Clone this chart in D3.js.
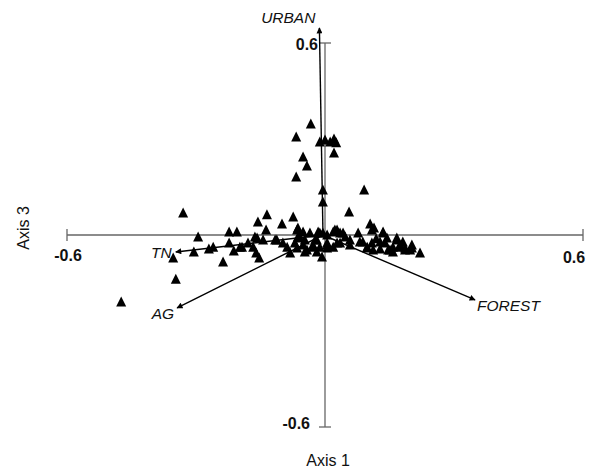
<!DOCTYPE html>
<html>
<head>
<meta charset="utf-8">
<script src="https://cdn.jsdelivr.net/npm/d3@7"></script>
<style>
  body { margin: 0; background: #fff; }
  svg text { font-family: "Liberation Sans", Arial, sans-serif; fill: #111; }
  .tick-label { font-size: 16px; font-weight: bold; }
  .axis-title { font-size: 16px; }
  .vec-label { font-size: 15.5px; font-style: italic; }
</style>
</head>
<body>
<svg id="plot" width="591" height="470"></svg>
<script>
// site scores (Axis 1, Axis 3)
const siteX = [-0.033, -0.067, -0.012, 0.000, 0.012, 0.021, 0.026, 0.021, -0.051, -0.042,
  -0.067, -0.005, -0.005, 0.091, 0.056, -0.135, -0.074, -0.330, -0.295, -0.353,
  -0.347, -0.474, -0.305, -0.270, -0.260, -0.237, -0.223, -0.205, -0.223, -0.212,
  -0.193, -0.179, -0.163, -0.156, -0.137, -0.144, -0.160, -0.153, -0.116, -0.100,
  -0.098, -0.081, -0.065, -0.063, -0.070, -0.047, -0.035, -0.023, -0.042, -0.019,
  -0.005, -0.007, 0.005, -0.051, -0.016, 0.005, 0.019, 0.028, 0.042, 0.058,
  0.035, 0.019, 0.005, -0.012, -0.028, -0.047, 0.077, 0.105, 0.114, 0.088,
  0.109, 0.119, 0.135, 0.140, 0.147, 0.128, 0.167, 0.174, 0.181, 0.186,
  0.158, 0.198, 0.202, 0.221, 0.098, -0.058,
  -0.063, -0.012, -0.019, 0.023, 0.035, 0.047, 0.028, 0.005, -0.028, -0.051,
  -0.065, 0.058, 0.081, 0.109, 0.135, 0.128, 0.144, 0.158, 0.174, 0.186,
  0.202, 0.167, 0.098, 0.112, 0.151, -0.088, -0.112, -0.158, -0.167, -0.198];
const siteY = [0.347, 0.306, 0.291, 0.297, 0.291, 0.300, 0.288, 0.256, 0.244, 0.216,
  0.181, 0.141, 0.103, 0.141, 0.072, 0.063, 0.056, 0.069, -0.006, -0.072,
  -0.138, -0.209, -0.053, -0.044, -0.038, -0.084, 0.009, 0.009, -0.025, -0.050,
  -0.038, -0.025, -0.006, 0.041, 0.016, -0.016, -0.056, -0.072, -0.016, 0.034,
  -0.025, -0.056, 0.016, -0.006, -0.025, -0.016, 0.006, -0.016, -0.047, -0.053,
  0.006, -0.069, -0.025, 0.009, 0.009, 0.000, 0.009, 0.016, 0.006, -0.016,
  -0.025, -0.038, -0.041, -0.038, -0.038, -0.053, 0.006, 0.034, 0.022, -0.022,
  -0.025, -0.012, 0.006, -0.025, -0.047, -0.044, -0.009, -0.038, -0.022, -0.047,
  -0.053, -0.047, -0.031, -0.056, -0.038, -0.009,
  0.022, 0.006, -0.016, 0.016, 0.006, -0.006, -0.025, -0.031, -0.031, -0.031,
  -0.041, -0.031, -0.022, 0.016, 0.009, -0.022, -0.009, -0.038, -0.031, -0.041,
  -0.041, -0.016, -0.041, -0.047, -0.047, -0.038, -0.016, -0.009, -0.038, -0.038];

// environmental vectors
const vecNames = ["URBAN", "TN", "AG", "FOREST"];
const vecX = [-0.013, -0.347, -0.344, 0.349];
const vecY = [0.647, -0.053, -0.228, -0.203];

const axisMin = -0.6, axisMax = 0.6;
const tickLabels = ["-0.6", "0.6"];

const svg = d3.select("#plot");
const x = d3.scaleLinear().domain([axisMin, axisMax]).range([67, 583]);
const y = d3.scaleLinear().domain([axisMin, axisMax]).range([427, 43]);

// label placement (pixels, relative to arrow tip)
const labelPos = {
  URBAN: { dx: -4, dy: -5, anchor: "end" },
  TN: { dx: -4, dy: 6, anchor: "end" },
  AG: { dx: -3, dy: 11, anchor: "end" },
  FOREST: { dx: 2, dy: 11, anchor: "start" }
};

// axes through origin
const axisColor = "#666";
svg.append("line")
  .attr("x1", x(axisMin)).attr("x2", x(axisMax))
  .attr("y1", y(0)).attr("y2", y(0))
  .attr("stroke", axisColor).attr("stroke-width", 1.3);
svg.append("line")
  .attr("x1", x(0)).attr("x2", x(0))
  .attr("y1", y(axisMin)).attr("y2", y(axisMax))
  .attr("stroke", axisColor).attr("stroke-width", 1.3);

// end ticks
[axisMin, axisMax].forEach(v => {
  svg.append("line")
    .attr("x1", x(v)).attr("x2", x(v))
    .attr("y1", y(0) - 6).attr("y2", y(0) + 6)
    .attr("stroke", axisColor).attr("stroke-width", 1.3);
  svg.append("line")
    .attr("x1", x(0) - 6).attr("x2", x(0) + 6)
    .attr("y1", y(v)).attr("y2", y(v))
    .attr("stroke", axisColor).attr("stroke-width", 1.3);
});

// tick labels
svg.append("text").attr("class", "tick-label")
  .attr("x", x(axisMin) + 1).attr("y", y(0) + 26)
  .attr("text-anchor", "middle").text(tickLabels[0]);
svg.append("text").attr("class", "tick-label")
  .attr("x", x(axisMax) - 9).attr("y", y(0) + 28)
  .attr("text-anchor", "middle").text(tickLabels[1]);
svg.append("text").attr("class", "tick-label")
  .attr("x", x(0) - 7).attr("y", y(axisMax) + 7)
  .attr("text-anchor", "end").text(tickLabels[1]);
svg.append("text").attr("class", "tick-label")
  .attr("x", x(0) - 15).attr("y", y(axisMin) + 2)
  .attr("text-anchor", "end").text(tickLabels[0]);

// axis titles
svg.append("text").attr("class", "axis-title")
  .attr("x", 328).attr("y", 466)
  .attr("text-anchor", "middle").text("Axis 1");
svg.append("text").attr("class", "axis-title")
  .attr("transform", "translate(29,228) rotate(-90)")
  .attr("text-anchor", "middle").text("Axis 3");

// site triangles
const tri = "M0,-5.5L5,4.5L-5,4.5Z";
svg.append("g").selectAll("path")
  .data(siteX.map((d, i) => [d, siteY[i]]))
  .join("path")
  .attr("d", tri)
  .attr("transform", d => `translate(${x(d[0])},${y(d[1])})`)
  .attr("fill", "#000");

// arrows
svg.append("defs").append("marker")
  .attr("id", "head")
  .attr("viewBox", "0 0 10 10")
  .attr("refX", 9).attr("refY", 5)
  .attr("markerWidth", 8).attr("markerHeight", 6)
  .attr("markerUnits", "userSpaceOnUse")
  .attr("orient", "auto")
  .append("path").attr("d", "M0,0L10,5L0,10Z").attr("fill", "#000");

const vg = svg.append("g");
vecNames.forEach((name, i) => {
  vg.append("line")
    .attr("x1", x(0) - 2).attr("y1", y(0))
    .attr("x2", x(vecX[i])).attr("y2", y(vecY[i]))
    .attr("stroke", "#000").attr("stroke-width", 1.4)
    .attr("marker-end", "url(#head)");
  const p = labelPos[name];
  vg.append("text").attr("class", "vec-label")
    .attr("x", x(vecX[i]) + p.dx).attr("y", y(vecY[i]) + p.dy)
    .attr("text-anchor", p.anchor).text(name);
});
</script>
</body>
</html>
